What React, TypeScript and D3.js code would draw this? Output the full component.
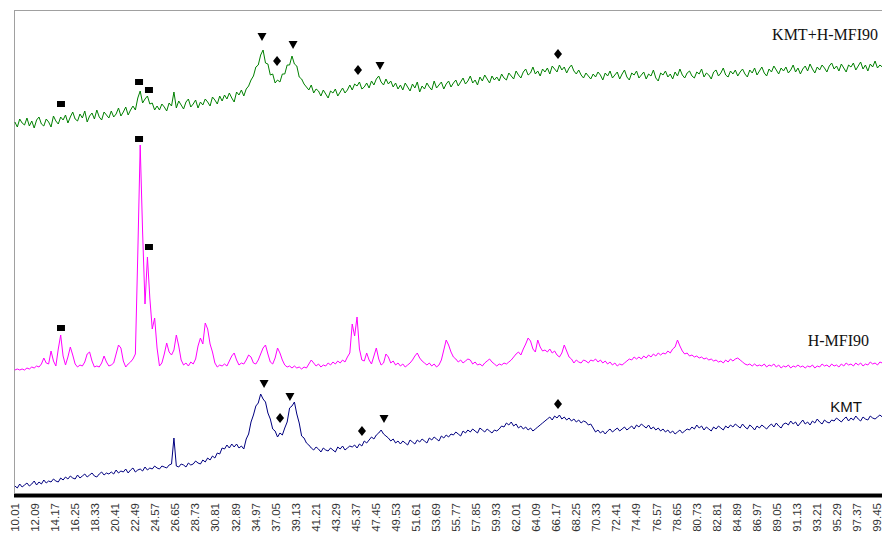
import * as d3 from 'd3';

// 2-theta sampling of the three traces (degrees)
const START = 10;
const STEP = 0.25;

const tickLabels = [
  '10.01', '12.09', '14.17', '16.25', '18.33', '20.41', '22.49', '24.57', '26.65', '28.73',
  '30.81', '32.89', '34.97', '37.05', '39.13', '41.21', '43.29', '45.37', '47.45', '49.53',
  '51.61', '53.69', '55.77', '57.85', '59.93', '62.01', '64.09', '66.17', '68.25', '70.33',
  '72.41', '74.49', '76.57', '78.65', '80.73', '82.81', '84.89', '86.97', '89.05', '91.13',
  '93.21', '95.29', '97.37', '99.45',
];

// intensities (arbitrary units, traces already offset)
const kmtHmfi = [
  372, 367, 375, 371, 369, 376, 368, 373, 366, 374, 377, 370, 368, 375, 372, 367, 378, 373, 370, 377,
  374, 379, 371, 377, 382, 375, 373, 380, 376, 383, 372, 378, 381, 375, 384, 377, 374, 382, 379, 376,
  383, 377, 380, 386, 378, 382, 387, 379, 384, 388, 384, 396, 403, 391, 395, 398, 390, 391, 384, 388,
  384, 390, 387, 383, 391, 388, 402, 386, 393, 389, 385, 392, 395, 387, 390, 394, 386, 392, 389, 395,
  392, 388, 397, 394, 390, 398, 393, 399, 395, 401, 396, 392, 402, 399, 404, 398, 405, 408, 414, 418,
  427, 429, 439, 444, 431, 430, 419, 420, 411, 414, 412, 420, 420, 429, 429, 438, 430, 428, 417, 415,
  410, 407, 404, 409, 401, 405, 403, 398, 404, 400, 396, 403, 401, 405, 398, 402, 406, 401, 404, 409,
  404, 410, 408, 412, 405, 407, 411, 406, 413, 409, 415, 418, 412, 409, 415, 410, 413, 407, 411, 405,
  409, 404, 411, 407, 403, 410, 406, 412, 402, 408, 405, 411, 407, 404, 413, 406, 409, 412, 405, 410,
  413, 407, 411, 414, 408, 412, 416, 410, 413, 418, 411, 414, 409, 417, 413, 419, 415, 411, 418, 414,
  417, 413, 420, 416, 414, 421, 418, 415, 423, 419, 416, 422, 425, 419, 421, 427, 420, 423, 418, 425,
  422, 426, 420, 428, 425, 422, 429, 424, 427, 421, 426, 429, 423, 420, 424, 419, 416, 421, 418, 415,
  420, 417, 422, 419, 414, 421, 418, 423, 416, 419, 422, 415, 420, 424, 417, 414, 421, 419, 423, 416,
  419, 422, 415, 420, 418, 424, 416, 413, 421, 419, 423, 417, 420, 415, 422, 418, 425, 419, 416, 421,
  423, 418, 416, 422, 420, 425, 417, 421, 419, 415, 422, 424, 418, 421, 426, 419, 417, 423, 420, 424,
  418, 422, 425, 420, 417, 424, 421, 426, 419, 423, 427, 421, 418, 425, 422, 428, 424, 420, 426, 423,
  427, 421, 424, 429, 422, 426, 420, 425, 428, 423, 430, 425, 421, 427, 424, 429, 426, 422, 428, 431,
  425, 428, 423, 430, 426, 422, 429, 427, 431, 424, 428, 432, 425, 429, 423, 430, 427, 433, 426, 429,
  427,
];

const hmfi = [
  124, 125, 124, 125, 124, 126, 125, 127, 126, 128, 127, 130, 136, 131, 130, 143, 133, 128, 145, 159,
  138, 129, 137, 147, 139, 130, 127, 129, 128, 132, 140, 142, 133, 127, 128, 127, 131, 138, 132, 128,
  129, 131, 140, 149, 146, 133, 127, 130, 132, 135, 140, 240, 349, 262, 190, 237, 196, 165, 176, 146,
  128, 131, 140, 151, 142, 139, 144, 159, 148, 134, 129, 131, 128, 132, 130, 135, 148, 156, 150, 171,
  165, 150, 142, 131, 127, 129, 128, 130, 128, 133, 138, 141, 134, 129, 131, 130, 134, 139, 137, 131,
  130, 134, 140, 146, 149, 140, 132, 130, 136, 146, 141, 134, 129, 127, 128, 126, 128, 126, 127, 125,
  127, 126, 130, 134, 131, 128, 130, 127, 129, 128, 131, 129, 132, 130, 133, 131, 134, 132, 137, 141,
  170, 158, 177, 145, 134, 133, 141, 134, 130, 138, 146, 135, 129, 131, 140, 137, 131, 133, 129, 131,
  128, 130, 127, 129, 131, 134, 138, 141, 136, 133, 131, 129, 131, 128, 130, 127, 129, 134, 144, 154,
  149, 142, 137, 135, 132, 134, 131, 133, 135, 134, 130, 132, 129, 130, 128, 131, 133, 135, 132, 130,
  128, 130, 129, 131, 130, 132, 134, 137, 140, 142, 139, 145, 150, 156, 153, 145, 142, 154, 147, 143,
  144, 142, 145, 141, 143, 139, 137, 141, 149, 143, 137, 135, 131, 134, 132, 131, 134, 133, 131, 134,
  133, 135, 132, 134, 131, 133, 130, 132, 129, 131, 128, 130, 129, 131, 133, 135, 134, 137, 135, 137,
  135, 138, 136, 139, 137, 140, 138, 141, 139, 141, 140, 143, 141, 145, 147, 154, 148, 143, 140, 141,
  138, 139, 137, 138, 136, 137, 135, 136, 134, 135, 133, 134, 132, 133, 131, 134, 132, 135, 133, 135,
  136, 134, 132, 130, 129, 130, 128, 130, 128, 129, 128, 130, 127, 129, 128, 130, 127, 129, 126, 128,
  127, 129, 126, 128, 127, 129, 127, 128, 126, 128, 127, 129, 126, 128, 127, 130, 128, 129, 127, 130,
  128, 129, 127, 130, 128, 131, 129, 130, 128, 131, 129, 131, 128, 130, 129, 132, 130, 131, 129, 132,
  131,
];

const kmt = [
  8, 6, 10, 7, 9, 11, 8, 10, 13, 9, 12, 10, 14, 11, 13, 12, 15, 13, 12, 16,
  14, 17, 15, 18, 16, 15, 19, 16, 18, 20, 17, 19, 21, 18, 17, 20, 22, 19, 21, 20,
  22, 20, 24, 21, 23, 22, 25, 21, 24, 26, 22, 24, 25, 23, 27, 24, 26, 25, 28, 26,
  25, 28, 27, 26, 29, 30, 56, 28, 27, 30, 29, 27, 31, 29, 30, 33, 31, 30, 34, 32,
  36, 34, 38, 36, 41, 40, 46, 45, 49, 46, 50, 47, 50, 46, 48, 45, 55, 60, 72, 79,
  88, 91, 100, 95, 92, 81, 75, 65, 63, 57, 61, 59, 66, 72, 86, 88, 92, 80, 71, 58,
  56, 51, 49, 46, 44, 47, 45, 42, 46, 44, 43, 46, 44, 42, 47, 45, 48, 44, 46, 48,
  47, 49, 46, 50, 48, 53, 51, 54, 57, 55, 59, 61, 64, 60, 58, 56, 53, 55, 51, 53,
  50, 53, 51, 49, 54, 52, 50, 54, 52, 55, 53, 51, 56, 54, 57, 55, 53, 58, 56, 59,
  57, 60, 59, 62, 60, 58, 63, 61, 64, 62, 65, 63, 61, 66, 64, 62, 65, 63, 61, 64,
  63, 65, 68, 67, 71, 69, 72, 68, 70, 66, 68, 65, 67, 64, 66, 63, 65, 67, 69, 71,
  73, 75, 77, 74, 78, 76, 79, 75, 77, 74, 76, 73, 75, 72, 74, 71, 73, 72, 69, 70,
  66, 62, 64, 61, 63, 60, 63, 65, 62, 64, 66, 63, 65, 67, 64, 66, 68, 65, 69, 67,
  70, 68, 66, 69, 65, 67, 64, 66, 63, 65, 62, 64, 61, 63, 60, 62, 64, 61, 63, 65,
  64, 67, 65, 69, 66, 68, 64, 67, 65, 63, 67, 65, 68, 66, 64, 68, 66, 69, 67, 70,
  68, 66, 70, 67, 65, 69, 67, 64, 68, 66, 69, 67, 65, 68, 70, 67, 71, 68, 66, 70,
  71, 69, 73, 70, 72, 68, 71, 74, 70, 72, 69, 73, 71, 75, 72, 70, 74, 72, 71, 74,
  73, 76, 74, 72, 75, 77, 73, 76, 74, 78, 75, 73, 77, 75, 74, 78, 76, 75, 77, 79,
  77,
];

type Shape = 'square' | 'tri' | 'diamond';
interface Mark { a: number; v: number; shape: Shape }

// phase markers: angle, height, symbol
const kmtHmfiMarks: Mark[] = [
  { a: 14.78, v: 390, shape: 'square' },
  { a: 22.88, v: 412, shape: 'square' },
  { a: 23.91, v: 404, shape: 'square' },
  { a: 35.64, v: 457, shape: 'tri' },
  { a: 37.2, v: 433, shape: 'diamond' },
  { a: 38.86, v: 449, shape: 'tri' },
  { a: 45.6, v: 424, shape: 'diamond' },
  { a: 47.88, v: 428, shape: 'tri' },
  { a: 66.35, v: 440, shape: 'diamond' },
];
const hmfiMarks: Mark[] = [
  { a: 22.88, v: 355, shape: 'square' },
  { a: 23.91, v: 247, shape: 'square' },
  { a: 14.78, v: 166, shape: 'square' },
];
const kmtMarks: Mark[] = [
  { a: 35.85, v: 110, shape: 'tri' },
  { a: 38.54, v: 97, shape: 'tri' },
  { a: 37.51, v: 76, shape: 'diamond' },
  { a: 46.01, v: 63, shape: 'diamond' },
  { a: 48.3, v: 75, shape: 'tri' },
  { a: 66.35, v: 90, shape: 'diamond' },
];

const W = 882;
const H = 534;
const x = d3.scaleLinear().domain([10.01, 99.45]).range([15, 877]);
const y = d3.scaleLinear().domain([0, 484]).range([494, 10]);

const line = d3
  .line<number>()
  .x((_, i) => x(START + STEP * i))
  .y((v) => y(v));

const shapePath: Record<Shape, string> = {
  square: 'M-4,-3H4V3H-4Z',
  tri: 'M-4.5,-4H4.5L0,4Z',
  diamond: 'M0,-5L4,0L0,5L-4,0Z',
};

const series = [
  { name: 'KMT+H-MFI90', values: kmtHmfi, color: '#008000', marks: kmtHmfiMarks },
  { name: 'H-MFI90', values: hmfi, color: '#ff00ff', marks: hmfiMarks },
  { name: 'KMT', values: kmt, color: '#000080', marks: kmtMarks },
];

export default function App() {
  return (
    <svg
      width={W}
      height={H}
      viewBox={`0 0 ${W} ${H}`}
      style={{ position: 'absolute', left: 0, top: 0, background: '#fff' }}
    >
      {/* plot frame */}
      <line x1={14} x2={W} y1={10.5} y2={10.5} stroke="#a0a0a0" />
      <line x1={14.5} x2={14.5} y1={10} y2={494} stroke="#a0a0a0" />

      {series.map((s) => (
        <path key={s.name} d={line(s.values) ?? ''} fill="none" stroke={s.color} strokeWidth={1} />
      ))}

      {series.map((s) =>
        s.marks.map((m, i) => (
          <path
            key={`${s.name}-${i}`}
            d={shapePath[m.shape]}
            transform={`translate(${x(m.a)},${y(m.v)})`}
            fill="#000"
          />
        )),
      )}

      <text x={878} y={40} textAnchor="end" fontFamily="'Liberation Serif', serif" fontSize={16} fill="#111">
        KMT+H-MFI90
      </text>
      <text x={869} y={346} textAnchor="end" fontFamily="'Liberation Serif', serif" fontSize={16} fill="#111">
        H-MFI90
      </text>
      <text x={862} y={412} textAnchor="end" fontFamily="'Liberation Sans', Arial, sans-serif" fontSize={15} fill="#111">
        KMT
      </text>

      {/* x axis */}
      <line x1={14} x2={W} y1={493.5} y2={493.5} stroke="#888" />
      <rect x={14} y={494} width={W - 14} height={3.5} fill="#000" />
      {tickLabels.map((t) => (
        <text
          key={t}
          transform={`translate(${x(+t)},503) rotate(-90)`}
          textAnchor="end"
          dy="0.35em"
          fontFamily="'Liberation Sans', Arial, sans-serif"
          fontSize={11.5}
          fill="#333"
        >
          {t}
        </text>
      ))}
    </svg>
  );
}
